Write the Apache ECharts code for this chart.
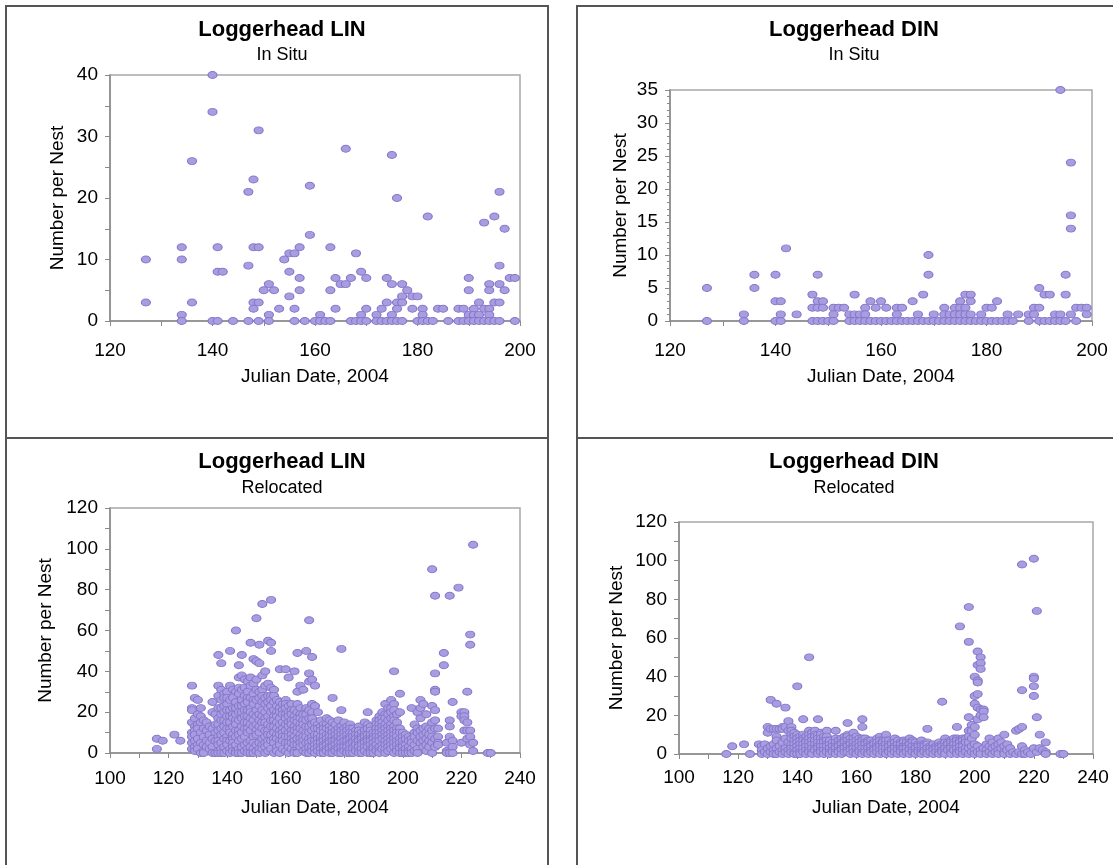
<!DOCTYPE html>
<html>
<head>
<meta charset="utf-8">
<script src="https://cdn.jsdelivr.net/npm/echarts@6/dist/echarts.min.js"></script>
<style>
html,body{margin:0;padding:0;background:#fff;}
#chart{width:1113px;height:865px;}
</style>
</head>
<body>
<div id="chart"></div>
<script>
// ---- Data (Julian date -> list of counts per nest) ----
const inSituLinDates = [127,134,136,140,141,142,144,147,148,149,150,151,152,153,154,155,156,157,158,159,160,161,162,163,164,165,166,167,168,169,170,172,173,174,175,176,177,178,179,180,181,182,183,184,185,186,188,189,190,191,192,193,194,195,196,197,198,199];
const inSituLinValues = [[10,3],[12,10,1,0],[26,3],[40,34,0],[12,8,0],[8],[0],[21,9,0],[23,12,3,2],[31,12,3,0],[5],[6,1,0],[5],[2],[10],[11,8,4],[11,2,0],[12,7,5],[0],[22,14],[0],[1,0],[0],[12,5,0],[7,2],[6],[28,6],[7,0],[11,0],[8,1,0],[7,2,0],[1,0],[2,0],[7,3,0],[27,6,1,0],[20,3,2,0],[6,4,3,0],[5],[4,2],[4,0],[2,1,0],[17,0],[0],[2],[2],[0],[2,0],[2,0],[7,5,1,0],[2,1,0],[3,1,0],[16,2,0],[6,5,2,1,0],[17,3,0],[21,9,6,3,0],[15,5],[7],[7,0]];

const inSituDinDates = [127,134,136,140,141,142,144,147,148,149,150,151,152,153,154,155,156,157,158,159,160,161,162,163,164,165,166,167,168,169,170,171,172,173,174,175,176,177,178,179,180,181,182,183,184,185,186,188,189,190,191,192,193,194,195,196,197,198,199];
const inSituDinValues = [[5,0],[1,0],[7,5],[7,3,0],[3,1,0],[11],[1],[4,2,0],[7,3,2,0],[3,2,0],[0],[2,1,0],[2],[2],[1,0],[4,1,0],[1,0],[2,1,0],[3,0],[2,0],[3,0],[2,0],[0],[2,1,0],[2,0],[0],[3,0],[1,0],[4,0],[10,7,0],[1,0],[0],[2,1,0],[1,0],[2,1,0],[3,2,1,0],[4,2,1,0],[4,3,1,0],[0],[1,0],[2,0],[2,0],[3,0],[0],[1,0],[0],[1],[1,0],[2,1],[5,2,0],[4,0],[4,0],[1,0],[35,1,0],[7,4,0],[24,16,14,1],[2,0],[2],[2,1]];

const relocLinDates = [116,118,122,124,
  128,129,130,131,132,133,134,135,136,137,138,139,
  140,141,142,143,144,145,146,147,148,149,
  150,151,152,153,154,155,156,157,158,159,
  160,161,162,163,164,165,166,167,168,169,
  170,171,172,173,174,175,176,177,178,179,
  180,181,182,183,184,185,186,187,188,189,
  190,191,192,193,194,195,196,197,198,199,
  200,201,202,203,204,205,206,207,208,209,
  210,211,212,214,215,216,217,219,220,221,222,223,224,229,230];
const relocLinValues = [
  [7,2],[6],[9],[6],
  [33,22,21,15,10,8,5,2],[27,17,13,11,9,6,3,1],[26,19,14,12,7,4,2],[22,18,15,10,5,0],[16,12,8,4,1,0],[15,11,6,3],[13,9,5,2],[25,20,12,7,3,0],[19,14,10,6,0],[48,33,28,22,17,14,11,8,6,4,1,0],[44,31,26,22,19,16,12,9,5,2,0],[29,27,23,20,16,13,10,7,3,0],
  [30,27,24,21,18,15,12,8,6,4,1],[50,33,26,21,18,15,12,10,6,2,0],[31,27,22,19,17,13,9,7,5,3,1],[60,30,25,22,19,16,14,11,8,4,1,0],[43,37,32,29,23,20,16,11,9,6,2,0],[48,38,31,26,23,20,17,13,10,7,3,0],[36,32,28,24,21,18,15,12,8,4,1],[35,30,27,25,21,18,15,12,10,5,2,0],[54,37,33,27,22,20,17,14,11,6,3,0],[46,34,29,26,24,19,16,13,8,5,2,0],
  [66,45,36,31,26,21,18,14,11,9,4,1],[53,44,30,27,23,19,16,13,10,5,2,0],[73,38,31,28,25,21,18,15,12,7,4,2],[40,33,27,24,20,17,15,11,8,5,3,0],[55,34,28,25,22,18,14,11,9,6,4,1],[75,54,50,32,28,26,23,20,16,13,9,6,2],[31,28,25,21,18,16,13,10,7,5,0],[26,23,20,18,15,12,9,7,3,1],[41,25,22,20,17,14,11,9,6,4,0],[24,21,19,15,12,10,8,6,2],
  [41,26,24,22,19,17,14,11,8,5,1],[37,23,20,18,15,13,10,8,5,3,0],[24,21,19,16,14,11,9,7,5,2],[40,21,18,16,13,11,8,6,4,1,0],[49,30,24,20,17,15,12,10,7,4,0],[33,22,19,17,14,12,9,7,5,3],[31,19,16,14,11,8,6,4,1],[50,22,19,16,13,10,8,5,2,0],[65,39,35,21,17,13,10,7,5,3,0],[47,36,24,20,17,14,11,8,6,3,1],
  [33,23,15,12,9,6,4,2,0],[20,14,12,9,7,5,3,1],[16,13,11,8,6,5,3,2,0],[14,12,10,8,6,4,3,1,0],[17,14,12,9,7,5,4,2,1],[16,13,11,9,8,6,5,3,2,0],[27,15,12,10,8,6,4,3,1,0],[14,11,9,7,6,4,2,1],[16,12,10,8,6,5,3,2,0],[51,21,13,11,9,7,5,3,1,0],
  [15,12,10,8,6,4,3,1],[13,11,9,7,6,4,3,1,0],[14,12,10,8,7,5,4,2,0],[12,10,8,6,5,3,2,0],[11,9,7,5,4,2,1],[13,11,9,7,6,4,3,1,0],[10,8,7,5,4,2,0],[15,11,9,8,6,5,3,1],[20,14,12,9,7,6,4,3,0],[13,11,9,7,6,4,2,1,0],
  [10,8,7,5,3,2,0],[16,14,12,10,8,6,4,2,1],[18,16,14,12,10,8,6,3,1,0],[20,17,15,13,11,9,7,4,2],[24,19,17,14,12,10,8,6,4,2,0],[22,19,16,13,11,9,7,5,3,1],[26,22,20,17,14,12,10,8,6,4,2],[40,24,21,18,16,13,11,9,7,5,3,0],[19,15,12,10,8,6,4,2,1],[29,20,12,10,7,5,3,2,0],
  [10,8,6,4,3,1,0],[9,7,4,2,0],[8,6,3,1,0],[22,7,5,2,0],[14,10,8,4,1],[20,12,10,6,2,0],[26,22,17,11,8,5],[24,12,9,6,3],[19,13,10,7,4,1],[12,9,6,3],
  [90,23,15,11,8,5,0],[77,39,31,30,21,16,12,7,3],[12,8,5,4],[49,43],[5,1,0],[77,16,13,8,0],[25,6,3,0],[81],[20,18,5],[20,18,16,11],[30,15,11,7],[58,53,11,8,4],[102,5,1],[0],[0]];

const relocDinDates = [116,118,122,124,127,
  128,129,130,131,132,133,134,135,136,137,138,139,
  140,141,142,143,144,145,146,147,148,149,
  150,151,152,153,154,155,156,157,158,159,
  160,161,162,163,164,165,166,167,168,169,
  170,171,172,173,174,175,176,177,178,179,
  180,181,182,183,184,185,186,187,188,189,
  190,191,192,193,194,195,196,197,198,199,
  200,201,202,203,204,205,206,207,208,209,
  210,211,212,213,214,215,216,217,218,219,
  220,221,222,223,224,229,230];
const relocDinValues = [
  [0],[4],[5],[0],[5],
  [4,2,0],[5,1],[14,11,3,0],[28,13,4,1],[13,5,2,0],[26,13,9,7,3,0],[13,4,1],[14,13,6,2,0],[24,14,8,3,1],[17,12,6,2,0],[14,12,10,8,5,3,1],[11,9,7,5,3,1,0],
  [35,10,8,6,4,2,0],[9,7,5,3,1,0],[18,10,8,7,5,3,1],[9,7,6,4,2,0],[50,12,10,8,6,4,2,1],[11,9,7,5,3,1,0],[12,10,9,7,5,3,2],[18,10,8,6,4,3,1,0],[11,10,8,6,4,2,1],[9,7,6,4,2,0],
  [12,9,7,5,4,2,1],[7,5,3,1,0],[6,4,2,1],[12,8,6,4,3,1,0],[7,5,4,2,1],[8,6,5,3,2,0],[9,7,6,4,3,1],[16,10,9,7,5,4,2,1],[8,6,5,3,2,0],[11,8,6,4,3,1],
  [9,7,5,3,1,0],[8,6,4,2,1],[18,14,8,7,5,3,1,0],[8,6,5,3,1],[7,6,4,3,1,0],[7,5,4,2,1],[6,5,3,2,0],[8,6,4,3,1],[9,7,5,4,2,0],[7,6,4,3,1],
  [10,7,5,3,1,0],[7,5,4,2,1],[6,5,3,2,0],[8,6,4,3,1],[7,5,3,2,0],[6,5,3,2,1],[7,6,4,3,1,0],[6,4,3,1],[8,6,5,3,2,0],[7,6,4,2,1],
  [6,4,3,1,0],[5,4,2,1],[7,5,4,2,1,0],[5,4,2,1],[13,6,5,3,1,0],[4,3,1],[5,3,2,0],[4,3,1],[6,4,3,1,0],[27,5,4,2,1],
  [8,6,4,3,1,0],[6,5,3,2],[7,6,4,3,1,0],[8,6,5,3,2],[14,8,7,5,3,1,0],[66,7,6,4,2,1],[8,7,5,4,2,0],[8,6,3,1],[76,58,19,12,9,6,3,0],[15,12,8,4,1],
  [40,30,26,14,10,5,2,0],[53,46,38,37,31,24,18,4,1],[50,47,44,23,20,2,0],[23,22,19,3],[5,2,0],[8,4,1],[6,3,0],[4,1],[8,5,2,0],[6,3],
  [10,4,1,0],[5,2],[3,0],[1],[12,0],[13,1],[98,33,14,4,0],[2,0],[1],[0],
  [101,40,39,35,30,3],[74,19,1],[10,3],[2],[6,1,0],[0],[0]];

const panelTitles = ['Loggerhead LIN','Loggerhead DIN','Loggerhead LIN','Loggerhead DIN'];
const panelSubtitles = ['In Situ','In Situ','Relocated','Relocated'];
const xAxisName = 'Julian Date, 2004';
const yAxisName = 'Number per Nest';

function flatten(dates, values){
  const out = [];
  dates.forEach((d,i)=>{ (values[i]||[]).forEach(v=>out.push([d,v])); });
  return out;
}

const FONT = '"Liberation Sans", Arial, sans-serif';
const chart = echarts.init(document.getElementById('chart'), null, {renderer:'canvas'});

const grids = [
  {left:110, top:75, width:410, height:246},
  {left:670, top:90, width:422, height:231},
  {left:110, top:508, width:410, height:245},
  {left:679, top:522, width:414, height:232}
];
const xCfg = [
  {min:120,max:200,interval:20,nameGap:46,margin:20},
  {min:120,max:200,interval:20,nameGap:46,margin:20},
  {min:100,max:240,interval:20,nameGap:45,margin:16},
  {min:100,max:240,interval:20,nameGap:44,margin:14}
];
const yCfg = [
  {min:0,max:40,interval:10,minor:2,nameGap:43},
  {min:0,max:35,interval:5,minor:5,nameGap:40},
  {min:0,max:120,interval:20,minor:2,nameGap:55},
  {min:0,max:120,interval:20,minor:2,nameGap:53}
];
const seriesData = [
  flatten(inSituLinDates, inSituLinValues),
  flatten(inSituDinDates, inSituDinValues),
  flatten(relocLinDates, relocLinValues),
  flatten(relocDinDates, relocDinValues)
];
const titleCenters = [[277,14,41],[849,14,41],[277,446,474],[849,446,474]];

const axisLineStyle = {color:'#8a8a8a', width:1.5};
const labelStyle = {color:'#000', fontSize:19, fontFamily:FONT};
const nameStyle = {color:'#000', fontSize:19, fontFamily:FONT};

const titles = [];
panelTitles.forEach((t,i)=>{
  titles.push({text:t, left:titleCenters[i][0], top:titleCenters[i][1], textAlign:'center',
    textStyle:{fontSize:22, fontWeight:'bold', color:'#000', fontFamily:FONT}});
  titles.push({text:panelSubtitles[i], left:titleCenters[i][0], top:titleCenters[i][2], textAlign:'center',
    textStyle:{fontSize:18, fontWeight:'normal', color:'#000', fontFamily:FONT}});
});

const option = {
  backgroundColor:'#fff',
  animation:false,
  title: titles,
  grid: grids.map(g=>Object.assign({show:true, borderColor:'#a8a8a8', borderWidth:1.5, backgroundColor:'transparent'}, g)),
  xAxis: xCfg.map((c,i)=>({
    type:'value', gridIndex:i, min:c.min, max:c.max, interval:c.interval,
    name:xAxisName, nameLocation:'middle', nameGap:c.nameGap, nameTextStyle:nameStyle,
    axisLine:{show:true, onZero:false, lineStyle:axisLineStyle},
    axisTick:{show:true, inside:false, length:5, lineStyle:{color:'#8a8a8a'}},
    minorTick:{show:true, splitNumber:2, length:5, lineStyle:{color:'#8a8a8a'}},
    axisLabel:Object.assign({margin:c.margin}, labelStyle),
    splitLine:{show:false}
  })),
  yAxis: yCfg.map((c,i)=>({
    type:'value', gridIndex:i, min:c.min, max:c.max, interval:c.interval,
    name:yAxisName, nameLocation:'middle', nameGap:c.nameGap, nameTextStyle:nameStyle,
    axisLine:{show:true, onZero:false, lineStyle:axisLineStyle},
    axisTick:{show:true, inside:false, length:5, lineStyle:{color:'#8a8a8a'}},
    minorTick:{show:true, splitNumber:c.minor, length:c.minor===5?3:5, lineStyle:{color:'#8a8a8a'}},
    axisLabel:Object.assign({margin:12}, labelStyle),
    splitLine:{show:false}
  })),
  series: seriesData.map((d,i)=>({
    type:'scatter', xAxisIndex:i, yAxisIndex:i, data:d,
    symbol:'circle', symbolSize:[9,7],
    itemStyle:{color:'#a99de0', borderColor:'#8577cc', borderWidth:1, opacity:1},
    clip:false
  })),
  graphic: [
    {type:'rect', shape:{x:6,y:6,width:542,height:432}, style:{fill:'none', stroke:'#555', lineWidth:2}, z:100},
    {type:'rect', shape:{x:577,y:6,width:560,height:432}, style:{fill:'none', stroke:'#555', lineWidth:2}, z:100},
    {type:'rect', shape:{x:6,y:438,width:542,height:450}, style:{fill:'none', stroke:'#555', lineWidth:2}, z:100},
    {type:'rect', shape:{x:577,y:438,width:560,height:450}, style:{fill:'none', stroke:'#555', lineWidth:2}, z:100}
  ]
};
chart.setOption(option);
</script>
</body>
</html>
